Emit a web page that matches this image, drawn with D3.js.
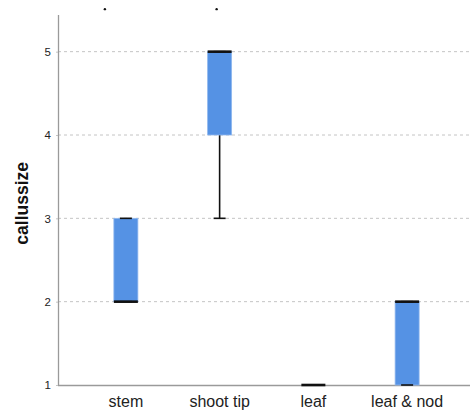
<!DOCTYPE html>
<html><head><meta charset="utf-8">
<script src="https://cdn.jsdelivr.net/npm/d3@7"></script>
<style>body{margin:0;background:#fff;}svg{display:block;font-family:Arial,"Liberation Sans",sans-serif;}</style>
</head><body><svg id="c" width="470" height="412"></svg>
<script>
const categories = ["stem", "shoot tip", "leaf", "leaf & nod"];
const q1 = [2, 4, 1, 1];
const median = [2, 5, 1, 2];
const q3 = [3, 5, 1, 2];
const whiskerLow = [2, 3, 1, 1];
const whiskerHigh = [3, 5, 1, 2];
const yTicks = [1, 2, 3, 4, 5];
const yTitle = "callussize";
// small marks at top edge (clipped outliers)
const topMarks = [{cat: "stem", dx: -21, v: 5.51}, {cat: "shoot tip", dx: -3, v: 5.51}];

(function () {
const svg = d3.select("#c");
const mLeft = 58, mRight = 470, mTop = 15, mBottom = 385;
const y = d3.scaleLinear().domain([1, 5.44]).range([mBottom, mTop]);
const x = d3.scaleBand().domain(categories).range([79, 454]).padding(0);
const cx = c => x(c) + x.bandwidth() / 2;
const boxW = 24, capW = 12;

// grid
svg.append("g").selectAll("line").data(yTicks.filter(d => d > 1)).join("line")
  .attr("x1", mLeft).attr("x2", mRight).attr("y1", d => y(d)).attr("y2", d => y(d))
  .attr("stroke", "#c4c4c4").attr("stroke-width", 1).attr("stroke-dasharray", "3,3");

// y axis
const ya = svg.append("g").attr("transform", `translate(${mLeft},0)`)
  .call(d3.axisLeft(y).tickValues(yTicks).tickSize(4).tickFormat(d3.format("d")));
ya.select(".domain").remove();
ya.selectAll(".tick line").attr("stroke", "#c4c4c4").attr("stroke-dasharray", "2,2").attr("x1", 0).attr("x2", -3);
ya.selectAll(".tick text").attr("font-size", 11.5).attr("fill", "#222").attr("font-family", "Arial, Liberation Sans, sans-serif").attr("x", -7);
svg.append("line").attr("x1", mLeft + 0.5).attr("x2", mLeft + 0.5).attr("y1", mTop).attr("y2", mBottom)
  .attr("stroke", "#9a9a9a").attr("stroke-width", 1.3);

// x axis
const xa = svg.append("g").attr("transform", `translate(0,${mBottom})`)
  .call(d3.axisBottom(x).tickSize(0).tickPadding(11));
xa.select(".domain").remove();
xa.selectAll(".tick text").attr("font-size", 16).attr("fill", "#222").attr("font-family", "Arial, Liberation Sans, sans-serif");
svg.append("line").attr("x1", mLeft).attr("x2", mRight).attr("y1", mBottom + 0.5).attr("y2", mBottom + 0.5)
  .attr("stroke", "#9a9a9a").attr("stroke-width", 1.3);

// y title
svg.append("text").attr("transform", `translate(28,${y(3.18)}) rotate(-90)`)
  .attr("text-anchor", "middle").attr("font-size", 17.5).attr("font-weight", "bold").attr("fill", "#111")
  .text(yTitle);

const data = categories.map((c, i) => ({c, q1: q1[i], med: median[i], q3: q3[i], lo: whiskerLow[i], hi: whiskerHigh[i]}));
const g = svg.append("g");
data.forEach(d => {
  const X = cx(d.c);
  if (d.lo < d.q1) {
    g.append("line").attr("x1", X).attr("x2", X).attr("y1", y(d.q1)).attr("y2", y(d.lo)).attr("stroke", "#111").attr("stroke-width", 1.6);
  }
  if (d.hi > d.q3) {
    g.append("line").attr("x1", X).attr("x2", X).attr("y1", y(d.q3)).attr("y2", y(d.hi)).attr("stroke", "#111").attr("stroke-width", 1.6);
  }
  if (d.q3 > d.q1) {
    g.append("rect").attr("x", X - boxW / 2).attr("width", boxW)
      .attr("y", y(d.q3)).attr("height", y(d.q1) - y(d.q3))
      .attr("fill", "#5592e4").attr("stroke", "#8fb7ee").attr("stroke-width", 0.8);
  }
  [d.lo, d.hi].forEach(v => {
    g.append("line").attr("x1", X - capW / 2).attr("x2", X + capW / 2).attr("y1", y(v)).attr("y2", y(v))
      .attr("stroke", "#111").attr("stroke-width", 1.6);
  });
  g.append("line").attr("x1", X - boxW / 2).attr("x2", X + boxW / 2).attr("y1", y(d.med)).attr("y2", y(d.med))
    .attr("stroke", "#111").attr("stroke-width", 2.6);
});

svg.append("g").selectAll("circle").data(topMarks).join("circle")
  .attr("cx", d => cx(d.cat) + d.dx).attr("cy", d => y(d.v)).attr("r", 1.2).attr("fill", "#111");
})();
</script></body></html>
